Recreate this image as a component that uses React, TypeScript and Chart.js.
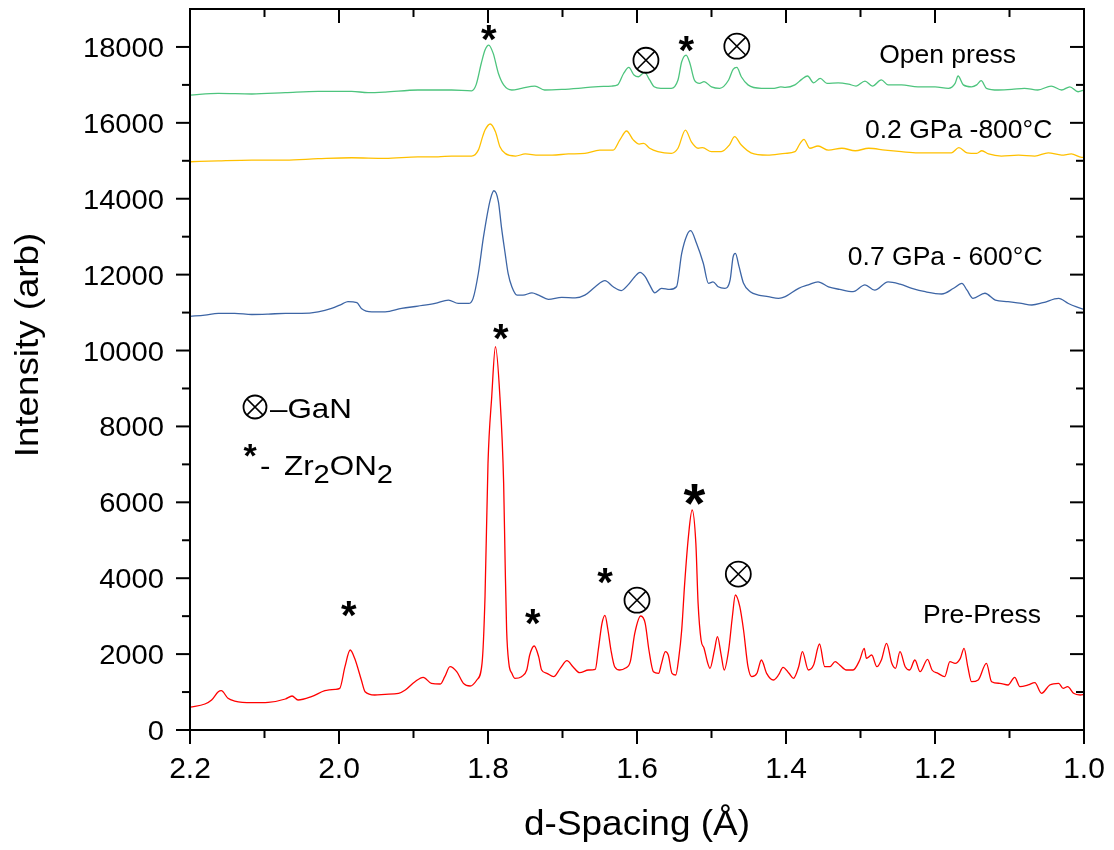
import { useEffect, useRef } from "react";
import { Chart, registerables } from "chart.js";

Chart.register(...registerables);

// [d-spacing (Å), intensity (arb)] for each diffraction pattern
const prePress: [number, number][] = [
  [2.2, 600], [2.18, 685], [2.171, 790], [2.162, 1009], [2.158, 1036], [2.149, 835], [2.14, 764],
  [2.117, 720], [2.095, 730], [2.072, 817], [2.063, 896], [2.055, 790], [2.037, 878], [2.019, 1036],
  [2.005, 1072], [1.999, 1098], [1.992, 1668], [1.985, 2108], [1.979, 1889], [1.97, 1318], [1.965, 1009],
  [1.952, 922], [1.938, 940], [1.92, 967], [1.911, 1054], [1.898, 1273], [1.887, 1388], [1.876, 1230],
  [1.864, 1212], [1.858, 1405], [1.851, 1668], [1.842, 1536], [1.833, 1230], [1.824, 1159], [1.815, 1318],
  [1.808, 1757], [1.804, 3513], [1.8, 7028], [1.795, 8783], [1.79, 10100], [1.784, 8783], [1.779, 6500],
  [1.777, 4392], [1.775, 2635], [1.772, 1757], [1.768, 1494], [1.764, 1362], [1.755, 1405], [1.748, 1581],
  [1.744, 1976], [1.738, 2213], [1.732, 1932], [1.728, 1581], [1.721, 1494], [1.712, 1405], [1.703, 1625],
  [1.694, 1827], [1.686, 1668], [1.677, 1511], [1.665, 1581], [1.656, 1599], [1.652, 2108], [1.647, 2811],
  [1.643, 3022], [1.639, 2635], [1.635, 2108], [1.63, 1668], [1.623, 1581], [1.616, 1625], [1.609, 1800],
  [1.603, 2548], [1.595, 3004], [1.589, 2811], [1.584, 2108], [1.578, 1536], [1.571, 1494], [1.567, 1757],
  [1.562, 2064], [1.558, 1976], [1.553, 1494], [1.548, 1450], [1.544, 1889], [1.54, 2635], [1.536, 3865],
  [1.531, 5094], [1.526, 5797], [1.521, 4920], [1.518, 3339], [1.514, 2372], [1.51, 2153], [1.505, 1757],
  [1.502, 1625], [1.496, 2108], [1.492, 2459], [1.487, 1976], [1.483, 1581], [1.477, 2108], [1.472, 2985],
  [1.468, 3557], [1.462, 3250], [1.457, 2635], [1.451, 1668], [1.446, 1405], [1.439, 1494], [1.433, 1845],
  [1.426, 1494], [1.417, 1318], [1.41, 1450], [1.404, 1652], [1.396, 1494], [1.39, 1362], [1.383, 1668],
  [1.378, 2064], [1.37, 1581], [1.363, 1713], [1.355, 2266], [1.348, 1668], [1.341, 1668], [1.334, 1800],
  [1.328, 1713], [1.319, 1581], [1.31, 1581], [1.301, 1845], [1.295, 2153], [1.292, 1889], [1.285, 1976],
  [1.278, 1668], [1.272, 1845], [1.265, 2284], [1.258, 1757], [1.253, 1625], [1.247, 2064], [1.24, 1668],
  [1.234, 1581], [1.227, 1845], [1.22, 1536], [1.21, 1862], [1.204, 1581], [1.196, 1494], [1.187, 1405],
  [1.18, 1800], [1.173, 1757], [1.166, 1889], [1.161, 2153], [1.156, 1668], [1.151, 1273], [1.142, 1318],
  [1.131, 1757], [1.124, 1273], [1.113, 1230], [1.102, 1186], [1.093, 1388], [1.086, 1142], [1.075, 1186],
  [1.066, 1247], [1.057, 967], [1.046, 1186], [1.034, 1230], [1.028, 1098], [1.022, 1142], [1.014, 967],
  [1.005, 922], [1.0, 940],
];

const gpa07At600C: [number, number][] = [
  [2.2, 10900], [2.18, 10935], [2.162, 10980], [2.14, 10980], [2.117, 10950], [2.095, 10960], [2.072, 10980],
  [2.05, 10980], [2.028, 11020], [2.01, 11110], [1.996, 11225], [1.988, 11290], [1.976, 11260], [1.97, 11110],
  [1.956, 11020], [1.938, 11020], [1.916, 11110], [1.894, 11170], [1.871, 11240], [1.853, 11330], [1.84, 11240],
  [1.826, 11240], [1.82, 11375], [1.813, 12030], [1.806, 13000], [1.797, 13970], [1.792, 14210], [1.786, 13920],
  [1.782, 13260], [1.777, 12560], [1.773, 12030], [1.768, 11680], [1.761, 11460], [1.753, 11460], [1.741, 11520],
  [1.732, 11460], [1.719, 11350], [1.701, 11400], [1.683, 11390], [1.67, 11460], [1.656, 11680], [1.643, 11840],
  [1.632, 11680], [1.621, 11580], [1.612, 11730], [1.603, 11945], [1.596, 12060], [1.589, 11945], [1.583, 11730],
  [1.576, 11520], [1.567, 11640], [1.556, 11610], [1.547, 11680], [1.54, 12560], [1.533, 13040], [1.528, 13160],
  [1.52, 12820], [1.511, 12300], [1.504, 11770], [1.498, 11810], [1.491, 11680], [1.482, 11640], [1.475, 11860],
  [1.471, 12470], [1.468, 12560], [1.463, 12210], [1.457, 11770], [1.448, 11550], [1.437, 11460], [1.424, 11420],
  [1.41, 11375], [1.401, 11420], [1.383, 11640], [1.37, 11730], [1.357, 11810], [1.343, 11680], [1.328, 11610],
  [1.31, 11550], [1.294, 11730], [1.281, 11590], [1.263, 11810], [1.247, 11750], [1.231, 11640], [1.213, 11550],
  [1.191, 11490], [1.175, 11640], [1.164, 11770], [1.157, 11590], [1.149, 11375], [1.133, 11510], [1.119, 11330],
  [1.102, 11290], [1.084, 11240], [1.07, 11200], [1.055, 11260], [1.034, 11375], [1.021, 11240], [1.01, 11150],
  [1.0, 11085],
];

const gpa02At800C: [number, number][] = [
  [2.2, 14975], [2.162, 15000], [2.117, 15020], [2.072, 15020], [2.028, 15055], [1.983, 15080], [1.938, 15065],
  [1.894, 15105], [1.867, 15105], [1.849, 15125], [1.822, 15125], [1.813, 15280], [1.807, 15650], [1.804, 15810],
  [1.797, 15970], [1.79, 15765], [1.784, 15370], [1.777, 15195], [1.763, 15125], [1.75, 15180], [1.732, 15150],
  [1.714, 15150], [1.692, 15180], [1.67, 15195], [1.65, 15280], [1.632, 15280], [1.623, 15550], [1.614, 15785],
  [1.605, 15550], [1.597, 15440], [1.591, 15460], [1.583, 15330], [1.572, 15240], [1.554, 15195], [1.545, 15330],
  [1.535, 15810], [1.527, 15500], [1.518, 15330], [1.512, 15345], [1.5, 15240], [1.487, 15240], [1.476, 15415],
  [1.469, 15635], [1.46, 15415], [1.447, 15210], [1.425, 15150], [1.401, 15195], [1.388, 15240], [1.381, 15460],
  [1.376, 15565], [1.368, 15330], [1.357, 15390], [1.343, 15280], [1.325, 15330], [1.307, 15265], [1.289, 15330],
  [1.267, 15280], [1.245, 15240], [1.223, 15210], [1.2, 15210], [1.178, 15210], [1.168, 15345], [1.157, 15210],
  [1.144, 15195], [1.137, 15265], [1.128, 15180], [1.111, 15125], [1.088, 15150], [1.066, 15125], [1.048, 15210],
  [1.03, 15150], [1.017, 15180], [1.003, 15090], [1.0, 15090],
];

const openPress: [number, number][] = [
  [2.2, 16730], [2.162, 16775], [2.117, 16760], [2.072, 16795], [2.028, 16830], [1.983, 16830], [1.961, 16795],
  [1.938, 16810], [1.894, 16865], [1.867, 16865], [1.849, 16865], [1.822, 16845], [1.816, 17000], [1.809, 17570],
  [1.804, 17920], [1.799, 18050], [1.793, 17830], [1.786, 17300], [1.779, 17000], [1.768, 16865], [1.755, 16910],
  [1.737, 16970], [1.724, 16865], [1.701, 16880], [1.679, 16910], [1.657, 16950], [1.634, 16970], [1.626, 17000],
  [1.618, 17300], [1.611, 17460], [1.604, 17260], [1.598, 17215], [1.59, 17330], [1.583, 17130], [1.577, 16950],
  [1.568, 16910], [1.554, 16910], [1.545, 17130], [1.54, 17610], [1.534, 17785], [1.529, 17570], [1.523, 17130],
  [1.516, 17040], [1.51, 17085], [1.5, 16950], [1.489, 16910], [1.477, 17130], [1.471, 17410], [1.466, 17460],
  [1.46, 17215], [1.451, 17000], [1.433, 16910], [1.416, 16910], [1.407, 16950], [1.401, 16935], [1.388, 17000],
  [1.379, 17145], [1.371, 17235], [1.363, 17055], [1.354, 17170], [1.345, 17040], [1.33, 17055], [1.316, 17020],
  [1.306, 16970], [1.294, 17100], [1.284, 16970], [1.272, 17130], [1.263, 17000], [1.245, 17000], [1.223, 16950],
  [1.2, 16950], [1.182, 16910], [1.173, 17040], [1.169, 17235], [1.162, 17000], [1.151, 16950], [1.144, 17000],
  [1.138, 17110], [1.131, 16910], [1.115, 16865], [1.097, 16880], [1.08, 16910], [1.062, 16865], [1.044, 16970],
  [1.03, 16865], [1.019, 16950], [1.008, 16820], [1.0, 16865],
];

const xMajorTicks = [2.2, 2.0, 1.8, 1.6, 1.4, 1.2, 1.0];
const xMinorTicks = [2.1, 1.9, 1.7, 1.5, 1.3, 1.1];
const yMajorTicks = [0, 2000, 4000, 6000, 8000, 10000, 12000, 14000, 16000, 18000];
const yMinorTicks = [1000, 3000, 5000, 7000, 9000, 11000, 13000, 15000, 17000];

const xTitle = "d-Spacing (Å)";
const yTitle = "Intensity (arb)";

// pattern names, placed at [d, intensity] of the text's left baseline
const patternLabels: { text: string; at: [number, number] }[] = [
  { text: "Open press", at: [1.275, 17575] },
  { text: "0.2 GPa -800°C", at: [1.294, 15600] },
  { text: "0.7 GPa - 600°C", at: [1.317, 12255] },
  { text: "Pre-Press", at: [1.216, 2820] },
];

// Zr2ON2 reflections (asterisks) and GaN reflections (circled crosses), centred at [d, intensity]
const zrMarks: { at: [number, number]; big?: boolean }[] = [
  { at: [1.799, 18420] },
  { at: [1.534, 18130] },
  { at: [1.987, 3250] },
  { at: [1.783, 10540] },
  { at: [1.74, 3030] },
  { at: [1.643, 4120] },
  { at: [1.523, 6320], big: true },
];
const ganMarks: [number, number][] = [
  [1.588, 17650],
  [1.466, 18020],
  [1.6, 3420],
  [1.464, 4110],
];

const FONT = "'Liberation Sans', Arial, sans-serif";

type TextOpts = {
  align?: CanvasTextAlign;
  sx?: number;
  bold?: boolean;
  rotate?: number;
};

function drawText(ctx: CanvasRenderingContext2D, str: string, x: number, y: number, size: number, o: TextOpts = {}) {
  const sx = o.sx ?? 1;
  ctx.save();
  ctx.translate(x, y);
  if (o.rotate) ctx.rotate(o.rotate);
  ctx.scale(sx, 1);
  ctx.font = `${o.bold ? "bold " : ""}${size}px ${FONT}`;
  ctx.textAlign = o.align ?? "left";
  ctx.textBaseline = "alphabetic";
  ctx.fillStyle = "#000";
  ctx.fillText(str, 0, 0);
  const w = ctx.measureText(str).width * sx;
  ctx.restore();
  return w;
}

function drawAsterisk(ctx: CanvasRenderingContext2D, cx: number, cy: number, size: number) {
  drawText(ctx, "*", cx, cy + 0.56 * size, size, { align: "center", bold: true });
}

// circled-cross marker for GaN reflections
function drawCircledTimes(ctx: CanvasRenderingContext2D, cx: number, cy: number, r: number) {
  ctx.save();
  ctx.strokeStyle = "#000";
  ctx.lineWidth = 1.8;
  ctx.beginPath();
  ctx.arc(cx, cy, r, 0, Math.PI * 2);
  ctx.stroke();
  const k = r * 0.7071;
  ctx.lineWidth = 1.5;
  ctx.beginPath();
  ctx.moveTo(cx - k, cy - k);
  ctx.lineTo(cx + k, cy + k);
  ctx.moveTo(cx + k, cy - k);
  ctx.lineTo(cx - k, cy + k);
  ctx.stroke();
  ctx.restore();
}

const frame = {
  id: "frame",
  afterDraw(chart: Chart) {
    const { ctx, chartArea: a, scales } = chart;
    const xs = scales.x;
    const ys = scales.y;
    const px = (d: number) => xs.getPixelForValue(d);
    const py = (v: number) => ys.getPixelForValue(v);

    ctx.save();
    ctx.strokeStyle = "#000";
    ctx.lineWidth = 2;
    ctx.strokeRect(a.left, a.top, a.right - a.left, a.bottom - a.top);

    const tick = (x1: number, y1: number, x2: number, y2: number) => {
      ctx.beginPath();
      ctx.moveTo(x1, y1);
      ctx.lineTo(x2, y2);
      ctx.stroke();
    };
    const MAJ = 14;
    const MIN = 8;
    // bottom ticks out, top ticks in
    for (const d of xMajorTicks) {
      const x = px(d);
      tick(x, a.bottom, x, a.bottom + MAJ);
      tick(x, a.top, x, a.top + MAJ);
    }
    for (const d of xMinorTicks) {
      const x = px(d);
      tick(x, a.bottom, x, a.bottom + MIN);
      tick(x, a.top, x, a.top + MIN);
    }
    // left ticks out, right ticks in
    for (const v of yMajorTicks) {
      const y = py(v);
      tick(a.left - MAJ, y, a.left, y);
      tick(a.right - MAJ, y, a.right, y);
    }
    for (const v of yMinorTicks) {
      const y = py(v);
      tick(a.left - MIN, y, a.left, y);
      tick(a.right - MIN, y, a.right, y);
    }
    ctx.restore();

    for (const d of xMajorTicks) {
      drawText(ctx, d.toFixed(1), px(d), a.bottom + 48, 30, { align: "center" });
    }
    for (const v of yMajorTicks) {
      drawText(ctx, String(v), a.left - 26, py(v) + 10, 27, { align: "right", sx: 1.08 });
    }

    drawText(ctx, xTitle, (a.left + a.right) / 2, a.bottom + 105, 35, { align: "center", sx: 1.056 });
    drawText(ctx, yTitle, 30, 337, 34, { align: "center", sx: 1.08, rotate: -Math.PI / 2 });

    for (const l of patternLabels) {
      drawText(ctx, l.text, px(l.at[0]), py(l.at[1]), 25, { sx: 1.06 });
    }
    for (const m of zrMarks) {
      drawAsterisk(ctx, px(m.at[0]), py(m.at[1]), m.big ? 56 : 40);
    }
    for (const g of ganMarks) {
      drawCircledTimes(ctx, px(g[0]), py(g[1]), 12.5);
    }

    // legend
    const lx = a.left;
    drawCircledTimes(ctx, lx + 65, 399, 11.5);
    drawText(ctx, "\u2013GaN", lx + 80, 410, 28, { sx: 1.12 });
    drawAsterisk(ctx, lx + 60, 440, 34);
    drawText(ctx, "-", lx + 70, 467, 28, { sx: 1.12 });
    let cx = lx + 94;
    cx += drawText(ctx, "Zr", cx, 467, 28, { sx: 1.12 });
    cx += drawText(ctx, "2", cx, 475, 26, { sx: 1.12 });
    cx += drawText(ctx, "ON", cx, 467, 28, { sx: 1.12 });
    drawText(ctx, "2", cx, 475, 26, { sx: 1.12 });
  },
};

export default function App() {
  const canvasRef = useRef<HTMLCanvasElement | null>(null);

  useEffect(() => {
    const canvas = canvasRef.current;
    if (!canvas) return;
    const toPoints = (rows: [number, number][]) => rows.map(([x, y]) => ({ x, y }));
    const chart = new Chart(canvas, {
      type: "line",
      data: {
        datasets: [
          { label: "Pre-Press", data: toPoints(prePress), borderColor: "#ff0000" },
          { label: "0.7 GPa - 600°C", data: toPoints(gpa07At600C), borderColor: "#3d65a5" },
          { label: "0.2 GPa -800°C", data: toPoints(gpa02At800C), borderColor: "#ffc000" },
          { label: "Open press", data: toPoints(openPress), borderColor: "#4dc47d" },
        ],
      },
      options: {
        responsive: false,
        animation: false,
        layout: { padding: { left: 182, right: 22, top: 1, bottom: 112 } },
        elements: {
          point: { radius: 0 },
          line: { borderWidth: 1.3, cubicInterpolationMode: "monotone", fill: false },
        },
        scales: {
          x: { type: "linear", min: 1.0, max: 2.2, reverse: true, display: false },
          y: { type: "linear", min: 0, max: 19000, display: false },
        },
        plugins: {
          legend: { display: false },
          tooltip: { enabled: false },
        },
      },
      plugins: [frame],
    });
    return () => chart.destroy();
  }, []);

  return (
    <div style={{ width: 1098, height: 834 }}>
      <canvas ref={canvasRef} width={1098} height={834} style={{ display: "block" }} />
    </div>
  );
}
